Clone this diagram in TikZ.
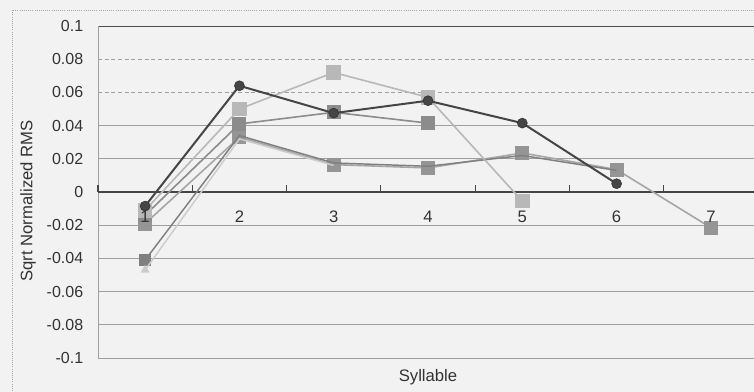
\documentclass[tikz,border=0pt]{standalone}
\usepackage{fontspec}
\setmainfont{Liberation Sans}
\usetikzlibrary{shapes.geometric}
\definecolor{serA}{gray}{0.27}
\definecolor{serB}{gray}{0.72}
\definecolor{serC}{gray}{0.55}
\definecolor{serD}{gray}{0.65}
\definecolor{serE}{gray}{0.50}
\definecolor{serF}{gray}{0.80}
\definecolor{paper}{gray}{0.95}
\tikzset{
  gridline/.style={draw=gray!75, line width=0.5pt},
  ticklabel/.style={anchor=east, inner sep=1pt, font=\fontsize{12}{14}\selectfont, text=black!80},
  catlabel/.style={inner sep=1pt, font=\fontsize{12.5}{14}\selectfont, text=black!80},
  sqmark/.style={rectangle, minimum size=#1, inner sep=0pt},
  circmark/.style={circle, minimum size=7.5pt, inner sep=0pt, fill=serA, draw=serA!70!black},
}
\begin{document}
\begin{tikzpicture}[x=70.725pt, y=12.45pt]
\clip (-1.039,-12.048) rectangle (6.957,11.566);
\fill[paper] (-1.039,-12.048) rectangle (6.957,11.566);
% chart frame
\draw[gray!70, densely dotted, line width=0.6pt] (-0.912,-13) -- (-0.912,10.96) -- (7.5,10.96);
% grid
\foreach \v in {-10,-8,-6,-4,-2,2,4}
  \draw[gridline] (0,\v) -- (7.5,\v);
\foreach \v in {6,8}
  \draw[gridline, densely dashed] (0,\v) -- (7.5,\v);
\draw[gray!60!black, line width=0.6pt] (0,10) -- (7.5,10);
\draw[gridline] (0,-10) -- (0,10);
% value labels
\foreach \v/\t in {10/0.1,8/0.08,6/0.06,4/0.04,2/0.02,0/0,-2/-0.02,-4/-0.04,-6/-0.06,-8/-0.08,-10/-0.1}
  \node[ticklabel] (v\v) at (-0.14,\v) {\t};
% zero axis
\draw[serA, line width=2.2pt] (0,0) -- (7.5,0);
\foreach \i in {0,...,7}
  \draw[serA, line width=0.9pt] (\i,0) -- (\i,0.4);

% series D (to 7)
\foreach \i/\v in {1/-1.9,2/3.3,3/1.65,4/1.45,5/2.35,6/1.35,7/-2.15}
  \coordinate (d\i) at (\i-0.5,\v);
\draw[serD, line width=1.2pt] (d1) -- (d2) -- (d3) -- (d4) -- (d5) -- (d6) -- (d7);
\foreach \i in {1,...,7}
  \node[sqmark=10.5pt, fill=serD!90!black] (dm\i) at (d\i) {};

% series E
\foreach \i/\v in {1/-4.1,2/3.4,3/1.75,4/1.55,5/2.2,6/1.3}
  \coordinate (e\i) at (\i-0.5,\v);
\draw[serE, line width=1.1pt] (e1) -- (e2) -- (e3) -- (e4) -- (e5) -- (e6);
\node[sqmark=8.5pt, fill=serE] (em1) at (e1) {};

% series F
\foreach \i/\v in {1/-4.7,2/3.2,3/1.6}
  \coordinate (f\i) at (\i-0.5,\v);
\draw[serF, line width=1.1pt] (f1) -- (f2) -- (f3);
\node[isosceles triangle, isosceles triangle apex angle=60, shape border rotate=90,
  minimum size=6pt, inner sep=0pt, fill=serF] (fm1) at (f1) {};

% series C
\foreach \i/\v in {1/-1.4,2/4.1,3/4.8,4/4.15}
  \coordinate (c\i) at (\i-0.5,\v);
\draw[serC, line width=1.2pt] (c1) -- (c2) -- (c3) -- (c4);
\foreach \i in {1,...,4}
  \node[sqmark=10.5pt, fill=serC] (cm\i) at (c\i) {};

% series B
\foreach \i/\v in {1/-1.1,2/5.0,3/7.2,4/5.7,5/-0.55}
  \coordinate (b\i) at (\i-0.5,\v);
\draw[serB, line width=1.2pt] (b1) -- (b2) -- (b3) -- (b4) -- (b5);
\foreach \i in {1,...,5}
  \node[sqmark=11pt, fill=serB] (bm\i) at (b\i) {};

% series A
\foreach \i/\v in {1/-0.85,2/6.4,3/4.75,4/5.5,5/4.15,6/0.5}
  \coordinate (a\i) at (\i-0.5,\v);
\draw[serA, line width=1.5pt] (a1) -- (a2) -- (a3) -- (a4) -- (a5) -- (a6);
\foreach \i in {1,...,6}
  \node[circmark] (am\i) at (a\i) {};

% categories and titles
\foreach \i in {1,...,7}
  \node[catlabel] (k\i) at (\i-0.5,-1.5) {\i};
\node[catlabel] (xtitle) at (3.5,-11.14) {Syllable};
\node[catlabel, rotate=90] (ytitle) at (-0.742,-0.54) {Sqrt Normalized RMS};
\end{tikzpicture}
\end{document}
